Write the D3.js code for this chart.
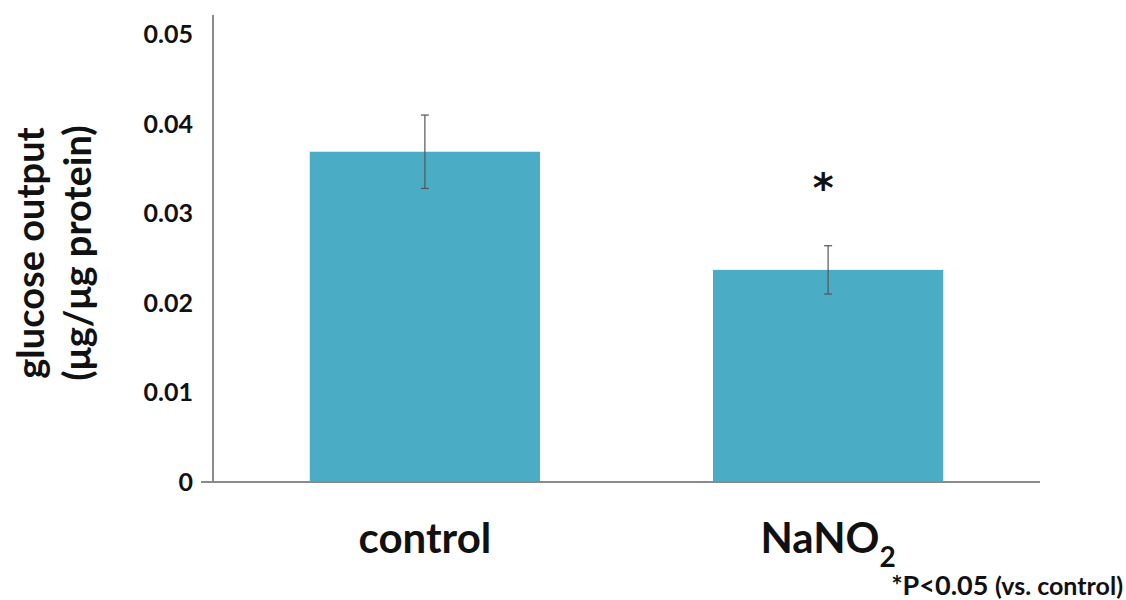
<!DOCTYPE html>
<html><head><meta charset="utf-8">
<script src="https://cdn.jsdelivr.net/npm/d3@7"></script>
<style>body{margin:0;background:#fff}svg{display:block}text{font-family:Lato,"Open Sans",sans-serif;font-weight:700;fill:#111}</style>
</head><body><svg id="c" width="1126" height="600"></svg>
<script>
const categories = ["control", "NaNO2"];
const values = [0.0369, 0.0237];
const errors = [0.0041, 0.0027];
const significant = [false, true];
const yTicks = [0, 0.01, 0.02, 0.03, 0.04, 0.05];

const svg = d3.select("#c");
const x0 = 213, x1 = 1040, yBottom = 482, yTopAxis = 15;
const y = d3.scaleLinear().domain([0, 0.05]).range([yBottom, 34.5]);
const x = d3.scaleBand().domain(categories).range([x0, x1]).paddingInner(0.429).paddingOuter(0.24);

// bars
svg.selectAll("rect.bar").data(categories).join("rect")
  .attr("x", d => x(d)).attr("width", x.bandwidth())
  .attr("y", (d,i) => y(values[i])).attr("height", (d,i) => yBottom - y(values[i]))
  .attr("fill", "#4BACC6");

// error bars
const eb = svg.append("g").attr("stroke", "#555").attr("stroke-width", 1.2);
categories.forEach((c,i) => {
  const cx = x(c) + x.bandwidth()/2;
  eb.append("line").attr("x1", cx).attr("x2", cx).attr("y1", y(values[i]+errors[i])).attr("y2", y(values[i]-errors[i]));
  eb.append("line").attr("x1", cx-4).attr("x2", cx+4).attr("y1", y(values[i]+errors[i])).attr("y2", y(values[i]+errors[i]));
  eb.append("line").attr("x1", cx-4).attr("x2", cx+4).attr("y1", y(values[i]-errors[i])).attr("y2", y(values[i]-errors[i]));
  if (significant[i]) {
    svg.append("text").attr("x", cx - 5).attr("y", y(values[i]+errors[i]) - 44)
      .attr("text-anchor", "middle").attr("font-size", 40)
      .style("font-family", "'DejaVu Sans', sans-serif").text("*");
  }
});

// y axis
const yAxis = d3.axisLeft(y).tickValues(yTicks).tickSize(0).tickPadding(20)
  .tickFormat(d => d === 0 ? "0" : d3.format(".2f")(d));
const gy = svg.append("g").attr("transform", `translate(${x0},0)`).call(yAxis);
gy.select(".domain").remove();
gy.selectAll("text").attr("font-size", 25).style("font-family", "Lato, sans-serif").style("font-weight", 700).attr("fill", "#111");
svg.append("line").attr("x1", x0).attr("x2", x0).attr("y1", yTopAxis).attr("y2", yBottom)
  .attr("stroke", "#8a8a8a").attr("stroke-width", 2);

// x axis
const xAxis = d3.axisBottom(x).tickSize(0).tickFormat(() => "");
const gx = svg.append("g").attr("transform", `translate(0,${yBottom})`).call(xAxis);
gx.select(".domain").remove();
svg.append("line").attr("x1", x0 - 12).attr("x2", x1).attr("y1", yBottom).attr("y2", yBottom)
  .attr("stroke", "#8a8a8a").attr("stroke-width", 2);

// x labels
categories.forEach(c => {
  const cx = x(c) + x.bandwidth()/2;
  const t = svg.append("text").attr("x", cx).attr("y", 553).attr("text-anchor", "middle").attr("font-size", 42);
  if (c === "NaNO2") {
    t.append("tspan").text("NaNO");
    t.append("tspan").attr("font-size", 28).attr("dy", 14).text("2");
  } else t.text(c);
});

// y title
const yt = svg.append("text").attr("transform", "translate(0,253) rotate(-90)").attr("text-anchor", "middle").attr("font-size", 38);
yt.append("tspan").attr("x", 0).attr("y", 44).text("glucose output");
yt.append("tspan").attr("x", 0).attr("y", 91).text("(μg/μg protein)");

// footnote
const fn = svg.append("text").attr("x", 1123).attr("y", 595).attr("text-anchor", "end").attr("font-size", 27);
fn.append("tspan").text("*P<0.05 ");
fn.append("tspan").attr("font-size", 25).text("(vs. control)");
</script></body></html>
